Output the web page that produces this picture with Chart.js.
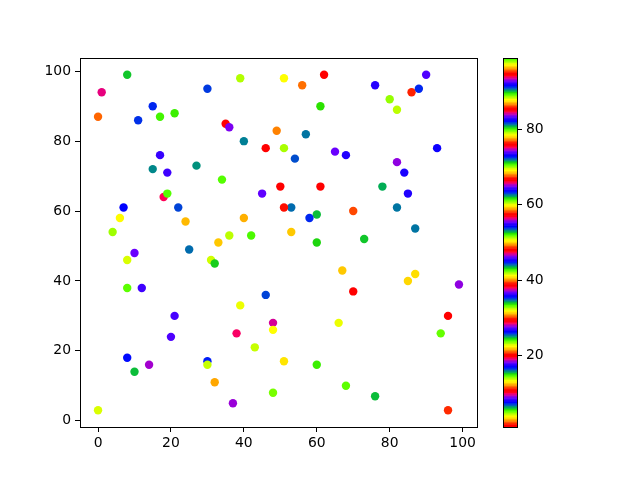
<!DOCTYPE html>
<html>
<head>
<meta charset="utf-8">
<script src="https://cdn.jsdelivr.net/npm/chart.js@4"></script>
<style>
  html, body { margin: 0; padding: 0; background: #fff; }
  #wrap { position: relative; width: 640px; height: 480px; }
  #wrap canvas { position: absolute; left: 0; top: 0; }
</style>
</head>
<body>
<div id="wrap">
  <canvas id="main" width="640" height="480"></canvas>
  <canvas id="cbar" width="640" height="480"></canvas>
</div>
<script>
// point positions and colour values
const X = [0, 0, 1, 8, 11, 15, 17, 21, 30, 39,
  35, 36, 40, 46, 49, 51, 51, 56, 62, 61,
  57, 54, 50, 61, 65, 68, 76, 80, 82, 86,
  88, 90, 93, 82, 84, 85, 78, 82, 70, 60,
  58, 53, 51, 45, 7, 6, 4, 15, 17, 19,
  18, 19, 22, 27, 34, 24, 25, 33, 36, 40,
  42, 60, 53, 73, 10, 8, 31, 32, 8, 12,
  21, 20, 46, 39, 38, 48, 48, 43, 8, 10,
  14, 30, 30, 32, 37, 48, 51, 60, 68, 76,
  96, 96, 94, 99, 85, 87, 70, 67, 66, 87];
const Y = [3, 87, 94, 99, 86, 90, 87, 88, 95, 98,
  85, 84, 80, 78, 83, 78, 98, 96, 99, 90,
  82, 75, 67, 67, 77, 76, 96, 92, 89, 94,
  95, 99, 78, 74, 71, 65, 67, 61, 60, 59,
  58, 61, 61, 65, 61, 58, 54, 72, 76, 71,
  64, 65, 61, 73, 69, 57, 49, 51, 53, 58,
  53, 51, 54, 52, 48, 46, 46, 45, 38, 38,
  30, 24, 36, 33, 25, 28, 26, 21, 18, 14,
  16, 17, 16, 11, 5, 8, 17, 16, 10, 7,
  3, 30, 25, 39, 40, 42, 37, 43, 28, 55];
const C = [69.7, 39.7, 19.1, 80.9, 54.2, 25.9, 89.5, 61.6, 35.2, 4.5,
  1.0, 46.3, 90.8, 76.3, 49.3, 23.4, 88.0, 58.8, 29.4, 5.9,
  16.1, 44.6, 10.6, 76.2, 55.7, 26.8, 92.4, 60.9, 32.7, 1.9,
  72.8, 46.0, 17.2, 84.0, 54.9, 26.7, 90.3, 62.8, 30.3, 6.1,
  72.7, 34.9, 11.3, 83.5, 54.5, 22.5, 88.7, 25.3, 36.6, 8.5,
  75.3, 99.0, 16.5, 6.6, 52.1, 22.0, 81.6, 59.5, 32.4, 3.2,
  71.0, 43.2, 12.7, 81.0, 55.5, 23.1, 88.5, 62.1, 33.2, 8.4,
  73.9, 45.8, 16.6, 78.8, 56.8, 28.4, 88.1, 60.4, 35.7, 6.0,
  74.6, 44.8, 14.0, 77.9, 55.9, 23.7, 87.7, 61.7, 33.4, 6.2,
  67.4, 38.7, 14.6, 83.7, 50.0, 22.1, 85.6, 59.5, 32.3, 16.2];
const XTICKS = [0, 20, 40, 60, 80, 100];
const YTICKS = [0, 20, 40, 60, 80, 100];
const CTICKS = [20, 40, 60, 80];

const FONT = { family: 'DejaVu Sans', size: 13.9 };

// matplotlib "prism" colormap, 256-entry lookup table
const N = 256;
const clip = v => Math.max(0, Math.min(1, v));
const LUT = [];
for (let i = 0; i < N; i++) {
  const x = i / (N - 1);
  const r = clip(0.75 * Math.sin((x * 20.9 + 0.25) * Math.PI) + 0.67);
  const g = clip(0.75 * Math.sin((x * 20.9 - 0.25) * Math.PI) + 0.33);
  const b = clip(-1.1 * Math.sin((x * 20.9) * Math.PI));
  LUT.push('rgb(' + Math.round(r * 255) + ',' + Math.round(g * 255) + ',' + Math.round(b * 255) + ')');
}
const cmin = Math.min(...C);
const cmax = Math.max(...C);
function colorFor(v) {
  let i = Math.floor((v - cmin) / (cmax - cmin) * N);
  if (i > N - 1) i = N - 1;
  if (i < 0) i = 0;
  return LUT[i];
}

// axis limits with matplotlib's 5% margins
const xlo = Math.min(...X), xhi = Math.max(...X);
const ylo = Math.min(...Y), yhi = Math.max(...Y);
const xm = (xhi - xlo) * 0.05, ym = (yhi - ylo) * 0.05;

const frame = {
  id: 'frame',
  afterDraw(chart) {
    const a = chart.chartArea, ctx = chart.ctx;
    ctx.save();
    ctx.strokeStyle = '#000';
    ctx.lineWidth = 1;
    ctx.strokeRect(Math.round(a.left) + 0.5, Math.round(a.top) + 0.5,
      Math.round(a.right - a.left), Math.round(a.bottom - a.top));
    ctx.restore();
  }
};

const tickGrid = { display: true, drawOnChartArea: false, drawTicks: true, tickLength: 5, color: '#000', lineWidth: 1 };

new Chart(document.getElementById('main'), {
  type: 'scatter',
  data: {
    datasets: [{
      data: X.map((x, i) => ({ x: x, y: Y[i] })),
      backgroundColor: C.map(colorFor),
      borderWidth: 0,
      pointRadius: 4.2,
      pointHoverRadius: 4.2
    }]
  },
  options: {
    responsive: false,
    animation: false,
    events: [],
    layout: { padding: { left: 40, right: 163, top: 58, bottom: 23 } },
    plugins: { legend: { display: false }, tooltip: { enabled: false } },
    scales: {
      x: {
        type: 'linear',
        min: xlo - xm,
        max: xhi + xm,
        grid: tickGrid,
        border: { display: false },
        afterBuildTicks: s => { s.ticks = XTICKS.map(v => ({ value: v })); },
        afterFit: s => { s.height = 30; },
        ticks: { color: '#000', font: FONT, padding: 3, maxRotation: 0 }
      },
      y: {
        type: 'linear',
        min: ylo - ym,
        max: yhi + ym,
        grid: tickGrid,
        border: { display: false },
        afterBuildTicks: s => { s.ticks = YTICKS.map(v => ({ value: v })); },
        afterFit: s => { s.width = 40; },
        ticks: { color: '#000', font: FONT, padding: 4 }
      }
    }
  },
  plugins: [frame]
});

// colorbar drawn on its own y scale
const bands = {
  id: 'bands',
  beforeDatasetsDraw(chart) {
    const a = chart.chartArea, ctx = chart.ctx, ys = chart.scales.y;
    ctx.save();
    for (let i = 0; i < N; i++) {
      const lo = cmin + (cmax - cmin) * i / N;
      const hi = cmin + (cmax - cmin) * (i + 1) / N;
      const y0 = ys.getPixelForValue(lo), y1 = ys.getPixelForValue(hi);
      ctx.fillStyle = LUT[i];
      ctx.fillRect(a.left, y1, a.right - a.left, y0 - y1 + 0.6);
    }
    ctx.restore();
  }
};

new Chart(document.getElementById('cbar'), {
  type: 'scatter',
  data: { datasets: [{ data: [] }] },
  options: {
    responsive: false,
    animation: false,
    events: [],
    layout: { padding: { left: 503, right: 83, top: 58, bottom: 53 } },
    plugins: { legend: { display: false }, tooltip: { enabled: false } },
    scales: {
      x: { display: false, min: 0, max: 1 },
      y: {
        type: 'linear',
        position: 'right',
        min: cmin,
        max: cmax,
        grid: tickGrid,
        border: { display: false },
        afterBuildTicks: s => { s.ticks = CTICKS.map(v => ({ value: v })); },
        afterFit: s => { s.width = 40; },
        ticks: { color: '#000', font: FONT, padding: 4 }
      }
    }
  },
  plugins: [bands, frame]
});
</script>
</body>
</html>
